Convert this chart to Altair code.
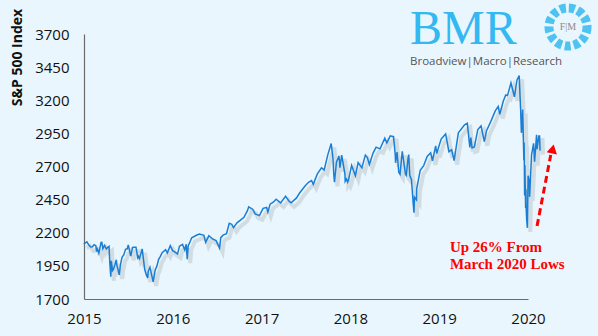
import altair as alt
import pandas as pd

# ---------------- data ----------------
dates = [
    "2015-05-08","2015-05-15","2015-05-21","2015-05-29","2015-06-05","2015-06-12","2015-06-19","2015-06-26",
    "2015-06-29","2015-07-02","2015-07-08","2015-07-17","2015-07-20","2015-07-24","2015-07-31","2015-08-07",
    "2015-08-14","2015-08-18","2015-08-21","2015-08-24","2015-08-25","2015-08-27","2015-09-01","2015-09-04",
    "2015-09-11","2015-09-16","2015-09-18","2015-09-28","2015-10-02","2015-10-09","2015-10-16","2015-10-23",
    "2015-10-30","2015-11-03","2015-11-13","2015-11-20","2015-11-27","2015-12-04","2015-12-11","2015-12-14",
    "2015-12-18","2015-12-29","2015-12-31",
    "2016-01-08","2016-01-15","2016-01-20","2016-01-22","2016-01-29","2016-02-05","2016-02-11","2016-02-19",
    "2016-02-26","2016-03-04","2016-03-11","2016-03-18","2016-04-01","2016-04-08","2016-04-20","2016-04-29",
    "2016-05-06","2016-05-19","2016-05-27","2016-06-08","2016-06-17","2016-06-23","2016-06-27","2016-07-01",
    "2016-07-08","2016-07-15","2016-08-05","2016-08-15","2016-09-02","2016-09-09","2016-09-22","2016-10-07",
    "2016-10-21","2016-11-04","2016-11-09","2016-11-18","2016-12-02","2016-12-13","2016-12-23","2016-12-30",
    "2017-01-13","2017-01-27","2017-02-10","2017-02-24","2017-03-01","2017-03-17","2017-03-27","2017-04-13",
    "2017-04-28","2017-05-12","2017-05-17","2017-05-26","2017-06-09","2017-06-19","2017-07-07","2017-07-27",
    "2017-08-10","2017-08-18","2017-09-08","2017-09-22","2017-10-13","2017-10-27","2017-11-08","2017-11-15",
    "2017-12-01","2017-12-18","2017-12-29",
    "2018-01-12","2018-01-26","2018-02-02","2018-02-05","2018-02-08","2018-02-16","2018-02-26","2018-03-02",
    "2018-03-09","2018-03-22","2018-03-23","2018-03-28","2018-04-02","2018-04-06","2018-04-18","2018-05-03",
    "2018-05-14","2018-05-29","2018-06-12","2018-06-20","2018-06-28","2018-07-13","2018-07-25","2018-08-10",
    "2018-08-29","2018-09-06","2018-09-20","2018-10-03","2018-10-10","2018-10-11","2018-10-17","2018-10-24",
    "2018-10-29","2018-11-07","2018-11-20","2018-11-23","2018-11-30","2018-12-03","2018-12-07","2018-12-14",
    "2018-12-21","2018-12-24","2018-12-26",
    "2019-01-03","2019-01-04","2019-01-18","2019-02-01","2019-02-15","2019-03-01","2019-03-08","2019-03-21",
    "2019-03-25","2019-04-12","2019-04-30","2019-05-13","2019-05-24","2019-06-03","2019-06-20","2019-07-15",
    "2019-07-26","2019-08-05","2019-08-09","2019-08-14","2019-08-23","2019-09-06","2019-09-19","2019-10-02",
    "2019-10-11","2019-10-28","2019-11-15","2019-11-27","2019-12-03","2019-12-17","2019-12-27",
    "2020-01-03","2020-01-17","2020-01-31","2020-02-10","2020-02-19","2020-02-25","2020-02-28","2020-03-04",
    "2020-03-09","2020-03-10","2020-03-12","2020-03-13","2020-03-16","2020-03-17","2020-03-18","2020-03-20",
    "2020-03-23","2020-03-26","2020-03-31","2020-04-01","2020-04-09","2020-04-17","2020-04-21","2020-04-29",
    "2020-05-01","2020-05-08","2020-05-11","2020-05-13",
]
values = [
    2116,2123,2131,2107,2092,2094,2110,2102,
    2058,2077,2047,2127,2128,2080,2104,2078,
    2092,2097,1971,1893,1868,1988,1914,1921,
    1962,1996,1958,1882,1951,2015,2033,2075,
    2079,2109,2023,2089,2090,2091,2012,2022,
    2005,2078,2044,
    1922,1880,1859,1907,1940,1880,1829,1918,
    1948,1999,2022,2050,2073,2048,2102,2065,
    2057,2040,2099,2112,2071,2113,2001,2103,
    2130,2162,2183,2190,2180,2128,2177,2153,
    2141,2085,2163,2182,2192,2271,2264,2239,
    2275,2295,2316,2367,2396,2378,2342,2329,
    2384,2391,2357,2416,2432,2453,2425,2475,
    2438,2426,2461,2502,2553,2581,2594,2565,
    2642,2690,2674,
    2786,2873,2762,2649,2581,2732,2780,2691,
    2786,2643,2588,2605,2582,2604,2708,2630,
    2730,2690,2786,2767,2716,2801,2846,2833,
    2914,2878,2931,2925,2786,2728,2809,2656,
    2641,2814,2641,2633,2760,2790,2633,2600,
    2417,2351,2468,
    2448,2532,2671,2707,2776,2804,2743,2855,
    2798,2907,2946,2812,2826,2744,2954,3014,
    3026,2844,2919,2840,2847,2979,3006,2887,
    2970,3039,3120,3154,3093,3192,3240,
    3235,3330,3226,3352,3386,3128,2954,3130,
    2747,2882,2481,2711,2386,2529,2398,2305,
    2237,2630,2585,2471,2790,2875,2737,2939,
    2831,2930,2930,2820,
]

year_labels = ["2015", "2016", "2017", "2018", "2019", "2020"]
y_ticks = [1700, 1950, 2200, 2450, 2700, 2950, 3200, 3450, 3700]

ann_dates = ["2019-05-17", "2019-05-17"]
ann_values = [2092, 1964]
ann_texts = ["Up 26% From", "March 2020 Lows"]

arrow_start = ("2020-05-01", 2251)
arrow_end = ("2020-06-25", 2787)
arrow_head = ("2020-07-03", 2832)


def dec_year(s):
    d = pd.to_datetime(pd.Series(s))
    days = d.dt.is_leap_year.map({True: 366.0, False: 365.0})
    return (d.dt.year + (d.dt.dayofyear - 1) / days).tolist()


df = pd.DataFrame({"t": dec_year(dates), "value": values})

# axis span: category labels spread evenly over the axis line
T0, T1 = 2015.352, 2020.231
step = (T1 - T0) / (len(year_labels) - 1)
tick_vals = [T0 + i * step for i in range(len(year_labels))]
label_expr = "[" + ",".join("'%s'" % s for s in year_labels) + "][round((datum.value - %f) / %f)]" % (T0, step)

W, H = 444, 265
FONT = "Open Sans"

x_scale = alt.Scale(domain=[T0, T1], zero=False, nice=False)
y_scale = alt.Scale(domain=[1700, 3700], zero=False, nice=False)

x_axis = alt.Axis(values=tick_vals, labelExpr=label_expr, title=None)
y_axis = alt.Axis(values=y_ticks, format="d", title="S&P 500 Index",
                  titleAngle=270, titleAlign="center", titleBaseline="middle",
                  titleX=-67, titleY=23)


def xq(field="t"):
    return alt.X(field + ":Q", scale=x_scale, axis=x_axis)


def yq(field="value"):
    return alt.Y(field + ":Q", scale=y_scale, axis=y_axis)


shadow = alt.Chart(df).mark_line(color="#8e9aa3", opacity=0.28, strokeWidth=4,
                                 xOffset=3, yOffset=4).encode(x=xq(), y=yq())

line = alt.Chart(df).mark_line(color="#1A7FD4", strokeWidth=1.5).encode(x=xq(), y=yq())

ann_df = pd.DataFrame({"t": dec_year(ann_dates), "value": ann_values, "label": ann_texts})
ann = alt.Chart(ann_df).mark_text(align="left", baseline="middle", font="Liberation Serif",
                                  fontSize=15, fontWeight="bold", color="#FF0000").encode(
    x=xq(), y=yq(), text="label:N")

arr_df = pd.DataFrame({
    "t": dec_year([arrow_start[0]]), "value": [arrow_start[1]],
    "t2": dec_year([arrow_end[0]]), "value2": [arrow_end[1]],
})
arrow = alt.Chart(arr_df).mark_rule(color="#FF0000", strokeWidth=3, strokeDash=[7, 4]).encode(
    x=xq(), y=yq(), x2="t2:Q", y2="value2:Q")

head_df = pd.DataFrame({"t": dec_year([arrow_head[0]]), "value": [arrow_head[1]]})
head = alt.Chart(head_df).mark_point(shape="triangle-up", filled=True, color="#FF0000",
                                     size=110, angle=12, opacity=1).encode(x=xq(), y=yq())

# ---------------- logo (decoration) ----------------
logo_df = pd.DataFrame({"k": [0]})
logo_bmr = alt.Chart(logo_df).mark_text(text="BMR", font="Liberation Serif", fontSize=48,
                                        color="#33B8F2", align="left", baseline="alphabetic").encode(
    x=alt.value(326), y=alt.value(10))
logo_sub = alt.Chart(logo_df).mark_text(text="Broadview|Macro|Research", font=FONT, fontSize=11.5,
                                        color="#555555", align="left", baseline="middle").encode(
    x=alt.value(326), y=alt.value(28))
logo_ring = alt.Chart(logo_df).mark_point(shape="circle", filled=False, size=1450, stroke="#4EC3F2",
                                          strokeWidth=9, strokeDash=[6, 3], opacity=1).encode(
    x=alt.value(484), y=alt.value(-7))
logo_fm = alt.Chart(logo_df).mark_text(text="F|M", font="Liberation Serif", fontSize=10,
                                       color="#8a8a8a", align="center", baseline="middle").encode(
    x=alt.value(484), y=alt.value(-7))

chart = alt.layer(shadow, line, arrow, head, ann, logo_bmr, logo_sub, logo_ring, logo_fm).properties(
    width=W, height=H, background="#EAF6FD",
    autosize=alt.AutoSizeParams(type="none"),
    padding={"left": 84, "top": 34, "right": 70, "bottom": 37},
).configure_view(stroke=None).configure_axis(
    grid=False, ticks=False, domainColor="#6b6b6b", domainWidth=1.2,
    labelFont=FONT, labelFontSize=15, labelColor="#111",
    labelOverlap=False, labelFlush=False, labelBound=False,
    titleFont=FONT, titleFontSize=14, titleFontWeight="bold", titleColor="#111",
).configure_axisX(labelPadding=12).configure_axisY(labelPadding=15)

chart.save("out.html", embed_options={"renderer": "svg", "actions": False})
